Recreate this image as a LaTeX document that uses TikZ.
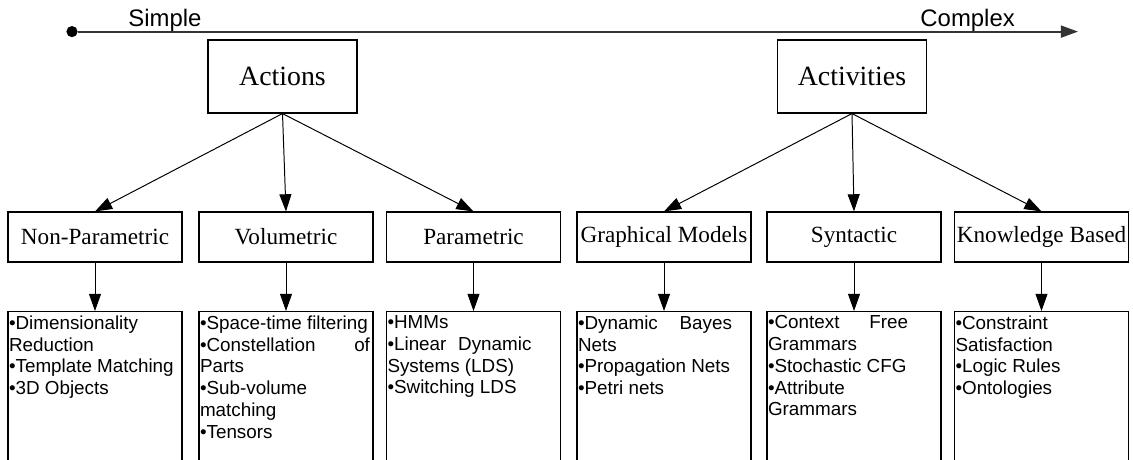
\documentclass[tikz,border=0pt]{standalone}
\usepackage{fontspec}
\setmainfont{Liberation Serif}
\setsansfont{Liberation Sans}
\usetikzlibrary{arrows.meta,positioning}
\newcommand{\listtext}[1]{\begin{minipage}[t][3.7cm][t]{4.3cm}\sffamily\fontsize{13.4pt}{15.5pt}\selectfont #1\end{minipage}}
\newcommand{\jline}[2]{\makebox[#1][s]{#2}}

\begin{document}
\begin{tikzpicture}[
    draw=black,
    line width=0.8pt,
    %
    level/.style={draw=black, rectangle, minimum width=3.725cm, minimum height=1.825cm,
                  font=\fontsize{19.8pt}{24pt}\selectfont},
    family/.style={draw=black, rectangle, minimum width=4.35cm, minimum height=1.25cm,
                   inner sep=0pt, font=\fontsize{16.5pt}{20pt}\selectfont},
    listbox/.style={draw=black, rectangle, anchor=north, minimum width=4.35cm,
                    inner xsep=0.02cm, inner ysep=0.1cm},
    axislabel/.style={anchor=base, font=\sffamily\fontsize{17pt}{20pt}\selectfont},
    dot/.style={circle, fill=black, inner sep=0pt, minimum size=0.28cm},
    %
    pre/.style={-{Triangle[length=0.43cm,width=0.3cm]}, line width=0.7pt},
    axis/.style={-{Triangle[length=0.43cm,width=0.3cm]}, line width=1.4pt, draw=black!80}
    ]
    \useasboundingbox (0,0) rectangle (28.325,-11.475);

    % simple -> complex
    \node[dot] (start) at (1.8,-0.79) {};
    \coordinate (end) at (26.95,-0.79);
    \draw[axis] (start) -- (end);
    \node[axislabel] (simple)  at (4.125,-0.67) {Simple};
    \node[axislabel] (complex) at (24.19,-0.67) {Complex};
    %
    \node[level] (actions)    at (7.0625,-1.9125) {Actions};
    \node[level] (activities) at (21.3,-1.9125)   {Activities};
    %
    \node[family] (nonpar) at (2.375,-5.925)   {Non-Parametric};
    \node[family] (volum)  at (7.15,-5.925)    {Volumetric};
    \node[family] (param)  at (11.8375,-5.925) {Parametric};
    \node[family] (graph)  at (16.6,-5.925)    {Graphical Models};
    \node[family] (syntax) at (21.35,-5.925)   {Syntactic};
    \node[family] (know)   at (26.0375,-5.925) {Knowledge Based};
    %
    \node[listbox] (nonpar-list) at (2.375,-7.775) {\listtext{•Dimensionality\\Reduction\\•Template Matching\\•3D Objects}};
    \node[listbox] (volum-list)  at (7.15,-7.775) {\listtext{•Space-time filtering\\\jline{4.25cm}{•Constellation of}\\Parts\\•Sub-volume\\matching\\•Tensors}};
    \node[listbox] (param-list)  at (11.8375,-7.775) {\listtext{•HMMs\\\jline{3.6cm}{•Linear Dynamic}\\Systems (LDS)\\•Switching LDS}};
    \node[listbox] (graph-list)  at (16.6,-7.775) {\listtext{\jline{3.85cm}{•Dynamic Bayes}\\Nets\\•Propagation Nets\\•Petri nets}};
    \node[listbox] (syntax-list) at (21.35,-7.775) {\listtext{\jline{3.5cm}{•Context Free}\\Grammars\\•Stochastic CFG\\•Attribute\\Grammars}};
    \node[listbox] (know-list)   at (26.0375,-7.775) {\listtext{•Constraint\\Satisfaction\\•Logic Rules\\•Ontologies}};
    %
    \foreach \n in {nonpar,volum,param}
        \draw[pre] (actions.south) -- (\n.north);
    \foreach \n in {graph,syntax,know}
        \draw[pre] (activities.south) -- (\n.north);
    \foreach \n in {nonpar,volum,param,graph,syntax,know}
        \draw[pre] (\n) -- (\n-list);

\end{tikzpicture}
\end{document}
